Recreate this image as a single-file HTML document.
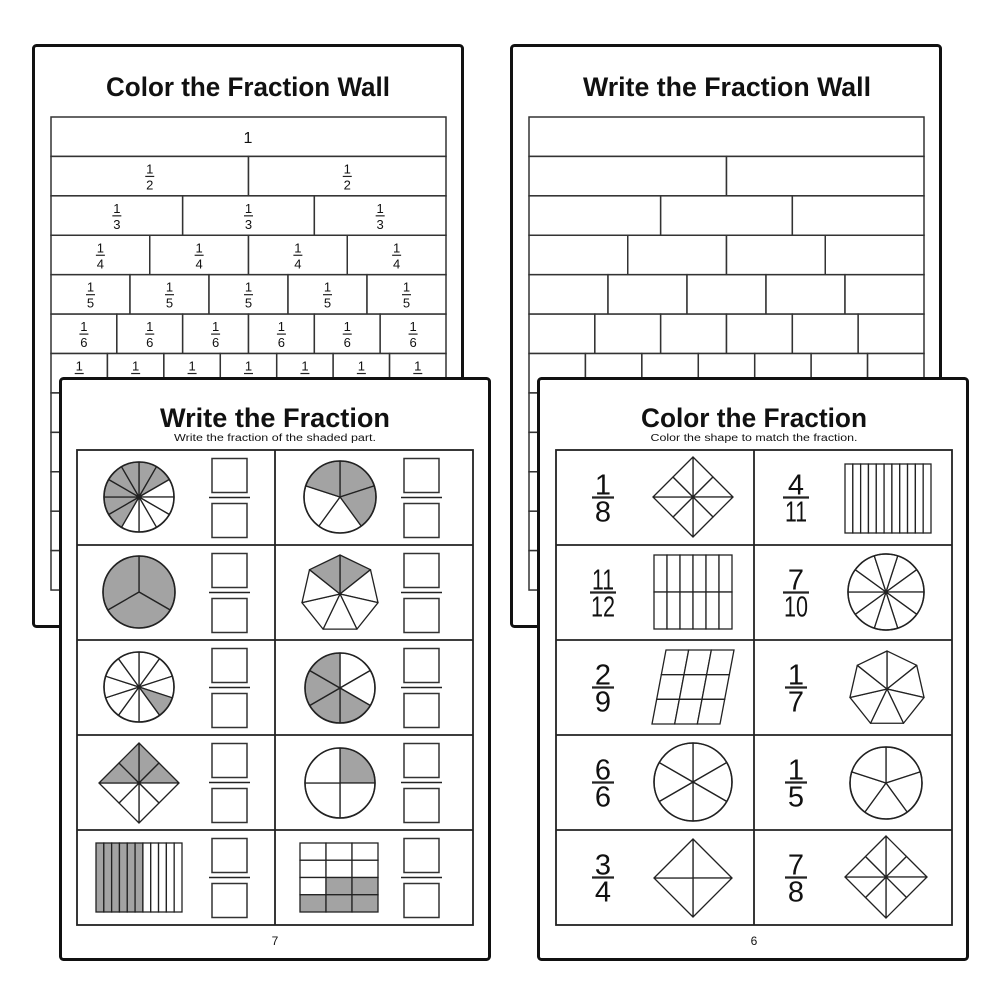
<!DOCTYPE html>
<html><head><meta charset="utf-8"><style>
html,body{margin:0;padding:0;background:#fff;}
svg{display:block;}
text{font-family:"Liberation Sans",sans-serif;fill:#111;}
.t{font-weight:bold;}
.w{font-size:13px;}
.b{font-size:29px;}
</style></head><body>
<svg id="s" width="1000" height="1000" viewBox="0 0 1000 1000" xmlns="http://www.w3.org/2000/svg">
<rect width="1000" height="1000" fill="#fff"/>
<g id="back">
 <rect x="33.5" y="45.5" width="429" height="581" rx="3" fill="#fff" stroke="#111" stroke-width="3"/>
 <rect x="511.5" y="45.5" width="429" height="581" rx="3" fill="#fff" stroke="#111" stroke-width="3"/>
 <g id="wallL"></g><g id="wallR"></g>
 <text class="t" x="248" y="96" font-size="27" text-anchor="middle" textLength="284" lengthAdjust="spacingAndGlyphs">Color the Fraction Wall</text>
 <text class="t" x="727" y="96" font-size="27" text-anchor="middle" textLength="288" lengthAdjust="spacingAndGlyphs">Write the Fraction Wall</text>
 <g text-anchor="middle">
  <text x="248" y="143" font-size="16">1</text>
  <text class="w" x="149.75 347.25" y="173.4">11</text>
  <text class="w" x="149.75 347.25" y="189.4">22</text>
  <text class="w" x="116.83 248.5 380.17" y="212.8">111</text>
  <text class="w" x="116.83 248.5 380.17" y="228.8">333</text>
  <text class="w" x="100.38 199.13 297.88 396.63" y="252.3">1111</text>
  <text class="w" x="100.38 199.13 297.88 396.63" y="268.3">4444</text>
  <text class="w" x="90.5 169.5 248.5 327.5 406.5" y="291.7">11111</text>
  <text class="w" x="90.5 169.5 248.5 327.5 406.5" y="307.7">55555</text>
  <text class="w" x="83.92 149.75 215.58 281.42 347.25 413.08" y="331.1">111111</text>
  <text class="w" x="83.92 149.75 215.58 281.42 347.25 413.08" y="347.1">666666</text>
  <text class="w" x="79.21 135.64 192.07 248.5 304.93 361.36 417.79" y="370.5">1111111</text>
 </g>
</g>
<g id="frontL">
 <rect x="60.5" y="378.5" width="429" height="581" rx="3" fill="#fff" stroke="#111" stroke-width="3"/>
 <text class="t" x="275" y="427" font-size="27" text-anchor="middle" textLength="230" lengthAdjust="spacingAndGlyphs">Write the Fraction</text>
 <text x="275" y="441" font-size="10" text-anchor="middle" textLength="202" lengthAdjust="spacingAndGlyphs">Write the fraction of the shaded part.</text>
 <g id="shL"></g>
 <text x="275" y="945" font-size="12" text-anchor="middle">7</text>
</g>
<g id="frontR">
 <rect x="538.5" y="378.5" width="429" height="581" rx="3" fill="#fff" stroke="#111" stroke-width="3"/>
 <text class="t" x="754" y="427" font-size="27" text-anchor="middle" textLength="226" lengthAdjust="spacingAndGlyphs">Color the Fraction</text>
 <text x="754" y="441" font-size="10" text-anchor="middle" textLength="207" lengthAdjust="spacingAndGlyphs">Color the shape to match the fraction.</text>
 <g id="shR"></g>
 <g text-anchor="middle" class="b">
  <text x="603" y="494.5">1</text><text x="603" y="521.5">8</text>
  <text x="796" y="494.5">4</text><text x="796" y="521.5" textLength="22" lengthAdjust="spacingAndGlyphs">11</text>
  <text x="603" y="589.5" textLength="22" lengthAdjust="spacingAndGlyphs">11</text><text x="603" y="616.5" textLength="24" lengthAdjust="spacingAndGlyphs">12</text>
  <text x="796" y="589.5">7</text><text x="796" y="616.5" textLength="24" lengthAdjust="spacingAndGlyphs">10</text>
  <text x="603" y="684.5">2</text><text x="603" y="711.5">9</text>
  <text x="796" y="684.5">1</text><text x="796" y="711.5">7</text>
  <text x="603" y="779.5">6</text><text x="603" y="806.5">6</text>
  <text x="796" y="779.5">1</text><text x="796" y="806.5">5</text>
  <text x="603" y="874.5">3</text><text x="603" y="901.5">4</text>
  <text x="796" y="874.5">7</text><text x="796" y="901.5">8</text>
 </g>
 <text x="754" y="945" font-size="12" text-anchor="middle">6</text>
</g>
</svg>
<script>
var NS="http://www.w3.org/2000/svg";
function el(p,tag,a){var e=document.createElementNS(NS,tag);for(var k in a)e.setAttribute(k,a[k]);p.appendChild(e);return e;}
var G="#a3a3a3",S="#222";
function line(p,x1,y1,x2,y2,w){el(p,"line",{x1:x1,y1:y1,x2:x2,y2:y2,stroke:S,"stroke-width":w||1.5});}
function pt(cx,cy,r,a){a=a*Math.PI/180;return [cx+r*Math.sin(a),cy-r*Math.cos(a)];}
function wall(id,x0,W,withBars){
 var g=document.getElementById(id);var h=39.42;
 for(var k=1;k<=12;k++){var t=117+(k-1)*h;
  for(var i=0;i<k;i++){el(g,"rect",{x:x0+W*i/k,y:t,width:W/k,height:h,fill:"#fff",stroke:"#333","stroke-width":1.5});
   if(withBars&&k>=2&&k<=7){var cx=x0+W*(i+0.5)/k;line(g,cx-4.5,t+20,cx+4.5,t+20,1.2);}}}
}
wall("wallL",51,395,true);wall("wallR",529,395,false);
function grid(g,x0){
 el(g,"rect",{x:x0,y:450,width:396,height:475,fill:"#fff",stroke:S,"stroke-width":1.8});
 for(var r=1;r<5;r++)line(g,x0,450+95*r,x0+396,450+95*r,1.8);
 line(g,x0+198,450,x0+198,925,1.8);
}
var L=document.getElementById("shL"),R=document.getElementById("shR");
grid(L,77);grid(R,556);
function yc(r){return 497.5+95*r;}
for(var r=0;r<5;r++){[212,404].forEach(function(x){var c=yc(r);
 el(L,"rect",{x:x,y:c-39,width:35,height:34,fill:"#fff",stroke:"#333","stroke-width":1.5});
 el(L,"rect",{x:x,y:c+6,width:35,height:34,fill:"#fff",stroke:"#333","stroke-width":1.5});
 line(L,x-3,c,x+38,c,1.5);});}
var wide={"603_1":1,"796_0":1,"796_1":1};
for(var r=0;r<5;r++){var c=yc(r);[603,796].forEach(function(x){var w=wide[x+"_"+r]?13:11;line(R,x-w,c,x+w,c,2.2);});}
function sectors(p,cx,cy,r,n,off,shaded,poly){
 for(var i=0;i<n;i++){var a0=off+360*i/n,a1=off+360*(i+1)/n;var P0=pt(cx,cy,r,a0),P1=pt(cx,cy,r,a1);
  var d=poly?("M"+cx+","+cy+"L"+P0+"L"+P1+"Z"):("M"+cx+","+cy+"L"+P0+"A"+r+","+r+" 0 0,1 "+P1+"Z");
  el(p,"path",{d:d,fill:shaded.indexOf(i)>=0?G:"#fff",stroke:S,"stroke-width":1.3,"stroke-linejoin":"round"});}
 if(!poly)el(p,"circle",{cx:cx,cy:cy,r:r,fill:"none",stroke:S,"stroke-width":1.6});
}
function diamond(p,cx,cy,h,n,shaded){
 var T=[cx,cy-h],Rr=[cx+h,cy],B=[cx,cy+h],Lf=[cx-h,cy];
 function m(a,b){return[(a[0]+b[0])/2,(a[1]+b[1])/2];}
 var P=n==8?[T,m(T,Rr),Rr,m(Rr,B),B,m(B,Lf),Lf,m(Lf,T)]:[T,Rr,B,Lf];
 for(var i=0;i<P.length;i++){var a=P[i],b=P[(i+1)%P.length];
  el(p,"path",{d:"M"+cx+","+cy+"L"+a+"L"+b+"Z",fill:shaded.indexOf(i)>=0?G:"#fff",stroke:S,"stroke-width":1.3,"stroke-linejoin":"round"});}
}
function strips(p,x,y,w,h,n,nsh){for(var i=0;i<n;i++)el(p,"rect",{x:x+w*i/n,y:y,width:w/n,height:h,fill:i<nsh?G:"#fff",stroke:S,"stroke-width":1.3});}
function gridRect(p,x,y,w,h,c,rw,sh){for(var j=0;j<rw;j++)for(var i=0;i<c;i++)el(p,"rect",{x:x+w*i/c,y:y+h*j/rw,width:w/c,height:h/rw,fill:sh.indexOf(j*c+i)>=0?G:"#fff",stroke:S,"stroke-width":1.3});}
sectors(L,139,497,35,12,0,[7,8,9,10,11,0,1]);
sectors(L,340,497,36,5,0,[0,1,4]);
sectors(L,139,592,36,3,0,[0,1,2]);
sectors(L,340,594,39,7,0,[0,6],true);
sectors(L,139,687,35,10,0,[3]);
sectors(L,340,688,35,6,0,[2,3,4,5]);
diamond(L,139,783,40,8,[0,1,6,7]);
sectors(L,340,783,35,4,0,[0]);
strips(L,96,843,86,69,11,6);
gridRect(L,300,843,78,69,3,4,[7,8,9,10,11]);
diamond(R,693,497,40,8,[]);
strips(R,845,464,86,69,11,0);
gridRect(R,654,555,78,74,6,2,[]);
(function(){var x0=666,y0=650,x1=734,y1=724,sk=-14;
 for(var j=0;j<3;j++)for(var i=0;i<3;i++){
  function P(u,v){return [x0+(x1-x0)*u/3+sk*v/3,y0+(y1-y0)*v/3];}
  var a=P(i,j),b=P(i+1,j),c=P(i+1,j+1),d=P(i,j+1);
  el(R,"path",{d:"M"+a+"L"+b+"L"+c+"L"+d+"Z",fill:"#fff",stroke:S,"stroke-width":1.3});}})();
sectors(R,886,592,38,10,18,[]);
sectors(R,887,689,38,7,0,[],true);
sectors(R,693,782,39,6,0,[]);
sectors(R,886,783,36,5,0,[]);
diamond(R,693,878,39,4,[]);
diamond(R,886,877,41,8,[]);
</script>
</body></html>
